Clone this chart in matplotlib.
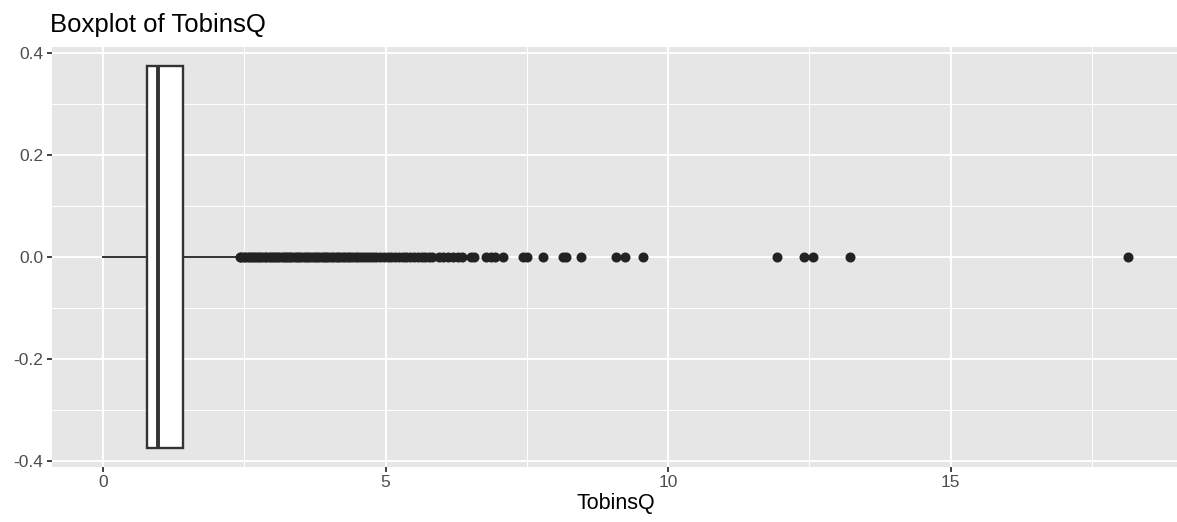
import matplotlib
matplotlib.use("Agg")
import matplotlib.pyplot as plt
from matplotlib.ticker import MultipleLocator

plt.rcParams['font.family'] = ['Liberation Sans', 'DejaVu Sans']

# box statistics
q1 = 0.78
median = 0.97
q3 = 1.41
whisker_low = 0.0
whisker_high = 2.34

# outliers (dense run, then the sparse tail)
outliers = [
    2.42, 2.45, 2.49, 2.52, 2.56, 2.60, 2.63, 2.67, 2.71, 2.74,
    2.78, 2.82, 2.86, 2.89, 2.93, 2.97, 3.01, 3.05, 3.08, 3.12,
    3.16, 3.20, 3.24, 3.28, 3.31, 3.35, 3.39, 3.43, 3.47, 3.51,
    3.55, 3.59, 3.63, 3.67, 3.71, 3.75, 3.79, 3.83, 3.87, 3.91,
    3.95, 3.99, 4.03, 4.07, 4.12, 4.16, 4.20, 4.25, 4.29, 4.33,
    4.38, 4.42, 4.47, 4.52, 4.57, 4.62, 4.67, 4.72, 4.78, 4.84,
    4.90, 4.97, 5.04, 5.10, 5.17, 5.24, 5.31, 5.37, 5.44, 5.51,
    5.58, 5.64, 5.70, 5.77, 5.83, 5.95, 6.02, 6.10, 6.20, 6.29,
    6.36, 6.52, 6.57, 6.78, 6.86, 6.94, 7.07, 7.44, 7.50, 7.78,
    8.14, 8.20, 8.46, 9.08, 9.24, 9.56, 11.92, 12.40, 12.57, 13.22,
    18.13,
]

x_ticks = [0, 5, 10, 15]
y_ticks = [-0.4, -0.2, 0.0, 0.2, 0.4]
y_tick_labels = ['-0.4', '-0.2', '0.0', '0.2', '0.4']

fig = plt.figure(figsize=(11.77, 5.22), dpi=100)
ax = fig.add_axes([0.0439, 0.1054, 0.9578, 0.8046])
ax.set_facecolor('#E6E6E6')

stats = [{
    'med': median, 'q1': q1, 'q3': q3,
    'whislo': whisker_low, 'whishi': whisker_high,
    'fliers': outliers,
}]
ax.bxp(stats, positions=[0], widths=0.75, vert=False, showcaps=False,
       patch_artist=True,
       boxprops=dict(facecolor='white', edgecolor='#333333', linewidth=1.7),
       medianprops=dict(color='#333333', linewidth=2.8),
       whiskerprops=dict(color='#333333', linewidth=1.4),
       flierprops=dict(marker='o', markersize=6.2, markerfacecolor='#222222',
                       markeredgecolor='#222222'),
       zorder=3)

ax.set_xlim(-0.907, 19.04)
ax.set_ylim(-0.4125, 0.4125)
ax.set_xticks(x_ticks)
ax.set_xticklabels([str(v) for v in x_ticks])
ax.set_yticks(y_ticks)
ax.set_yticklabels(y_tick_labels)
ax.xaxis.set_minor_locator(MultipleLocator(2.5))
ax.yaxis.set_minor_locator(MultipleLocator(0.1))

ax.grid(which='major', color='white', linewidth=1.4, zorder=0)
ax.grid(which='minor', color='white', linewidth=0.7, zorder=0)
ax.set_axisbelow(True)
for s in ax.spines.values():
    s.set_visible(False)

ax.tick_params(which='major', length=3.5, width=1.3, color='#333333',
               labelcolor='#4D4D4D', labelsize=12.5, pad=2.5)
ax.tick_params(which='minor', length=0)

ax.set_xlabel('TobinsQ', fontsize=15.5, color='black', labelpad=2)
fig.text(0.0425, 0.9387, 'Boxplot of TobinsQ', fontsize=18.5, color='black',
         ha='left', va='baseline')

fig.savefig('out.png', dpi=100)
